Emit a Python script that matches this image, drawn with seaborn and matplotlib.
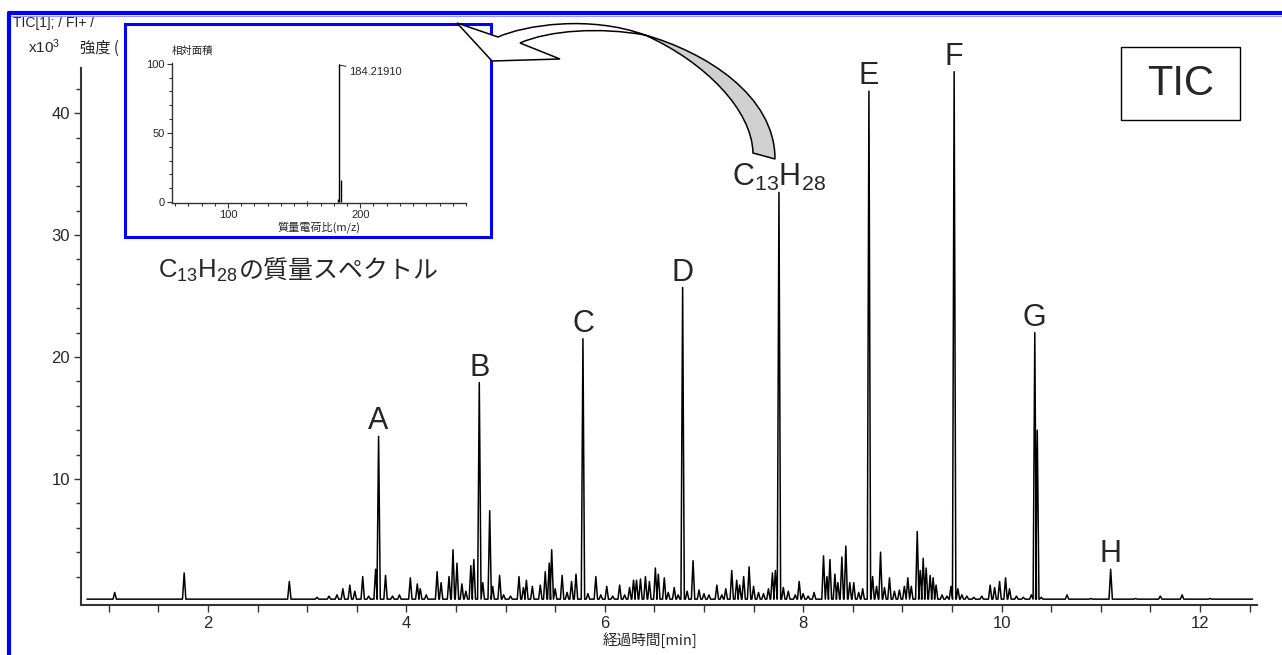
import numpy as np
import pandas as pd
import seaborn as sns
import matplotlib.pyplot as plt
from matplotlib.patches import Rectangle, PathPatch
from matplotlib.path import Path
from matplotlib.lines import Line2D
from matplotlib.ticker import FixedLocator, MultipleLocator

# TIC chromatogram peaks: retention time [min] and intensity [x10^3]
peak_time = [1.06, 1.76, 2.82, 3.10, 3.22, 3.30, 3.36, 3.43, 3.48, 3.56, 3.62, 3.69,
             3.72, 3.79, 3.86, 3.93, 4.04, 4.11, 4.14, 4.20, 4.31, 4.35, 4.43, 4.47,
             4.51, 4.56, 4.60, 4.65, 4.68, 4.735, 4.77, 4.84, 4.87, 4.94, 4.98, 5.05,
             5.135, 5.18, 5.21, 5.27, 5.35, 5.40, 5.44, 5.465, 5.50, 5.57, 5.62, 5.665,
             5.71, 5.78, 5.83, 5.91, 5.96, 6.02, 6.08, 6.15, 6.20, 6.25, 6.29, 6.32,
             6.36, 6.41, 6.45, 6.51, 6.54, 6.60, 6.64, 6.70, 6.74, 6.785, 6.83, 6.89,
             6.95, 7.00, 7.05, 7.13, 7.18, 7.22, 7.28, 7.33, 7.36, 7.40, 7.455, 7.50,
             7.55, 7.60, 7.65, 7.69, 7.72, 7.756, 7.80, 7.85, 7.92, 7.96, 8.00, 8.05,
             8.11, 8.205, 8.24, 8.27, 8.32, 8.35, 8.39, 8.43, 8.47, 8.51, 8.56, 8.60,
             8.663, 8.70, 8.74, 8.78, 8.82, 8.87, 8.92, 8.97, 9.02, 9.055, 9.09, 9.15,
             9.18, 9.21, 9.24, 9.28, 9.31, 9.34, 9.40, 9.45, 9.49, 9.522, 9.56, 9.60,
             9.65, 9.72, 9.80, 9.885, 9.93, 9.98, 10.04, 10.08, 10.15, 10.22, 10.30,
             10.335, 10.36, 10.40, 10.66, 10.90, 11.10, 11.35, 11.60, 11.82, 12.10]
peak_height = [0.7, 2.3, 1.6, 0.3, 0.4, 0.5, 1.0, 1.3, 0.8, 2.0, 0.4, 2.6,
               13.5, 2.1, 0.4, 0.5, 1.9, 1.4, 1.0, 0.5, 2.4, 1.5, 2.0, 4.2,
               3.1, 1.4, 0.8, 2.9, 3.4, 17.9, 1.5, 7.4, 1.2, 2.1, 0.5, 0.4,
               2.0, 1.1, 1.7, 1.2, 1.3, 2.4, 3.1, 4.2, 1.0, 2.1, 0.7, 1.6,
               2.2, 21.5, 0.6, 2.0, 0.5, 1.2, 0.4, 1.3, 0.5, 1.1, 1.7, 1.7,
               1.8, 2.0, 1.6, 2.7, 2.2, 1.9, 0.7, 1.1, 0.5, 25.7, 0.8, 3.3,
               0.9, 0.6, 0.5, 1.3, 0.5, 1.0, 2.5, 1.7, 1.3, 2.0, 2.8, 1.2,
               0.7, 0.6, 1.0, 2.3, 2.5, 33.5, 1.1, 0.8, 0.5, 1.6, 0.6, 0.4,
               0.7, 3.7, 2.0, 3.4, 2.2, 1.5, 3.6, 4.5, 1.5, 1.5, 0.7, 1.0,
               41.8, 2.0, 1.2, 4.0, 1.1, 1.9, 0.8, 0.9, 1.2, 1.9, 1.2, 5.7,
               2.5, 3.5, 2.7, 2.1, 1.9, 1.3, 0.5, 0.4, 1.2, 43.4, 1.0, 0.5,
               0.4, 0.3, 0.4, 1.3, 1.1, 1.6, 1.9, 1.0, 0.4, 0.3, 0.5,
               22.0, 14.0, 0.3, 0.5, 0.2, 2.6, 0.2, 0.4, 0.5, 0.2]
baseline = 0.15
t_start, t_end = 0.78, 12.53

# labelled peaks
label_text = ['A', 'B', 'C', 'D', r'$\mathrm{C_{13}H_{28}}$', 'E', 'F', 'G', 'H']
label_time = [3.72, 4.735, 5.78, 6.785, 7.756, 8.663, 9.522, 10.335, 11.10]

# mass spectrum of C13H28 (inset)
ms_mz = [160, 183, 184, 185.5]
ms_rel = [0.8, 2.5, 100, 16]

W, H = 1282, 655


def fx(x):
    return x / W


def fy(y):
    return 1 - y / H


sns.set_style('ticks')
plt.rcParams['font.family'] = ['Liberation Sans', 'Noto Sans CJK JP', 'DejaVu Sans']
plt.rcParams['mathtext.fontset'] = 'custom'
plt.rcParams['mathtext.rm'] = 'Liberation Sans'
plt.rcParams['mathtext.it'] = 'Liberation Sans:italic'
plt.rcParams['mathtext.bf'] = 'Liberation Sans:bold'
narrow = ['Liberation Sans Narrow', 'Liberation Sans', 'DejaVu Sans']
jp = ['Noto Sans CJK JP', 'DejaVu Sans']
axc = '#333333'

fig = plt.figure(figsize=(W / 100, H / 100), dpi=100)
fig.patch.set_facecolor('white')

# main chromatogram
ax = fig.add_axes([fx(81), fy(605), fx(1257) - fx(81), fy(68) - fy(605)])
w = 0.017
xs, ys = [t_start], [baseline]
for t, h in zip(peak_time, peak_height):
    xs += [t - w, t, t + w]
    ys += [baseline, h, baseline]
xs.append(t_end)
ys.append(baseline)
trace = pd.DataFrame({'time': xs, 'intensity': ys})
sns.lineplot(data=trace, x='time', y='intensity', ax=ax, sort=False,
             estimator=None, color='black', lw=1.1)

ax.set_xlim(0.72, 12.575)
ax.set_ylim(-0.33, 43.7)
ax.set_xlabel('')
ax.set_ylabel('')
ax.set_facecolor('white')
for s in ['top', 'right']:
    ax.spines[s].set_visible(False)
for s in ['left', 'bottom']:
    ax.spines[s].set_linewidth(1.5)
    ax.spines[s].set_color(axc)
ax.xaxis.set_major_locator(FixedLocator([2, 4, 6, 8, 10, 12]))
ax.xaxis.set_minor_locator(MultipleLocator(0.5))
ax.yaxis.set_major_locator(FixedLocator([10, 20, 30, 40]))
ax.yaxis.set_minor_locator(FixedLocator(np.arange(2, 44, 2)))
ax.tick_params(axis='both', which='major', direction='out', length=5, width=1,
               color=axc, labelsize=12, pad=3)
ax.tick_params(axis='x', which='minor', direction='out', length=5, width=1, color=axc)
ax.tick_params(axis='y', which='minor', direction='out', length=3.5, width=1, color=axc)
for lab in ax.get_xticklabels() + ax.get_yticklabels():
    lab.set_family(narrow)

for txt, t in zip(label_text, label_time):
    h = peak_height[peak_time.index(t)]
    ax.annotate(txt, xy=(t, h), xytext=(0, 5), textcoords='offset points',
                ha='center', va='baseline', fontsize=22)

# header texts
fig.text(fx(13), fy(23), 'TIC[1]; / FI+ /', family=narrow, fontsize=10, va='center')
fig.text(fx(28), fy(47), r'x10$^{\mathregular{3}}$', family=narrow, fontsize=11, va='center')
fig.text(fx(80), fy(48), '強度 (', family=jp, fontsize=11, va='center')
fig.text(fx(650), fy(640), '経過時間[min]', family=jp, fontsize=10.5, ha='center', va='center')

# inset box
box = Rectangle((fx(125), fy(237)), fx(491) - fx(125), fy(24) - fy(237),
                transform=fig.transFigure, fc='white', ec='#0000ff', lw=2.2, zorder=5)
fig.add_artist(box)

axi = fig.add_axes([fx(172), fy(203), fx(466) - fx(172), fy(63) - fy(203)])
axi.set_zorder(6)
axi.vlines(ms_mz, 0, ms_rel, color='black', lw=1.0)
axi.set_xlim(57.6, 280)
axi.set_ylim(-0.7, 100.5)
axi.set_facecolor('white')
for s in ['top', 'right']:
    axi.spines[s].set_visible(False)
for s in ['left', 'bottom']:
    axi.spines[s].set_linewidth(1.0)
    axi.spines[s].set_color(axc)
axi.xaxis.set_major_locator(FixedLocator([100, 200]))
axi.xaxis.set_minor_locator(MultipleLocator(10))
axi.yaxis.set_major_locator(FixedLocator([0, 50, 100]))
axi.yaxis.set_minor_locator(MultipleLocator(10))
axi.tick_params(axis='both', which='major', direction='out', length=3.5, width=0.8,
                color=axc, labelsize=8, pad=1.5)
axi.tick_params(axis='both', which='minor', direction='out', length=2.5, width=0.8,
                color=axc)
for lab in axi.get_xticklabels() + axi.get_yticklabels():
    lab.set_family(narrow)
axi.annotate('184.21910', xy=(184.3, 99), xytext=(7, -5), textcoords='offset points',
             ha='left', va='center', fontsize=8, family=narrow,
             arrowprops=dict(arrowstyle='-', lw=0.6, color='black', shrinkA=0, shrinkB=0))
fig.text(fx(172), fy(51), '相対面積', family=jp, fontsize=7.5, va='center', zorder=7)
fig.text(fx(319), fy(227), '質量電荷比(m/z)', family=jp, fontsize=8, ha='center',
         va='center', zorder=7)

# curved arrow from the C13H28 peak to the inset
def pth(pts, codes):
    return Path([(fx(x), fy(y)) for x, y in pts], codes)

M, L, C4, Z = Path.MOVETO, Path.LINETO, Path.CURVE4, Path.CLOSEPOLY
head = pth([(457, 23), (498, 37), (525, 25), (590, 15), (645, 35),
            (600, 27), (550, 30), (520, 43), (560, 59), (492, 61), (457, 23)],
           [M, L, C4, C4, C4, C4, C4, C4, L, L, Z])
band = pth([(645, 35), (705, 52), (775, 95), (775, 159), (753, 153),
            (752, 110), (705, 62), (645, 35), (645, 35)],
           [M, C4, C4, C4, L, C4, C4, C4, Z])
fig.add_artist(PathPatch(band, transform=fig.transFigure, fc='#d0d0d0', ec='black',
                         lw=1.1, zorder=8))
fig.add_artist(PathPatch(head, transform=fig.transFigure, fc='white', ec='black',
                         lw=1.1, zorder=8))

# caption of the inset
fig.text(fx(158), fy(278), r'$\mathrm{C_{13}H_{28}}$', fontsize=18.5, va='baseline')
fig.text(fx(239), fy(279), 'の質量スペクトル', family=jp, fontsize=18, va='baseline')

# TIC box
fig.add_artist(Rectangle((fx(1121), fy(120)), fx(1240) - fx(1121), fy(47) - fy(120),
                         transform=fig.transFigure, fc='white', ec='black', lw=1.0, zorder=4))
fig.text(fx(1180.5), fy(84), 'TIC', fontsize=30, ha='center', va='center', zorder=5)

# blue frame
fig.add_artist(Line2D([fx(9), 1], [fy(13), fy(13)], color='#0000ff', lw=3,
                      transform=fig.transFigure, zorder=9))
fig.add_artist(Line2D([fx(9), 1], [fy(16), fy(16)], color='#9999ff', lw=0.8,
                      transform=fig.transFigure, zorder=9))
fig.add_artist(Line2D([fx(9), fx(9)], [fy(13), 0], color='#0000ff', lw=3,
                      transform=fig.transFigure, zorder=9))

fig.savefig('out.png', dpi=100, facecolor='white')
